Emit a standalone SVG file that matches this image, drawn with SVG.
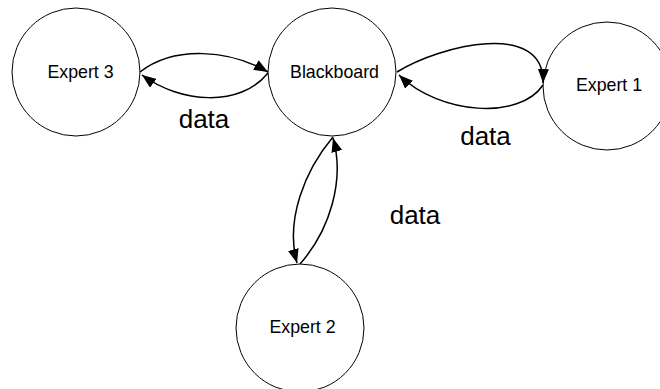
<svg xmlns="http://www.w3.org/2000/svg" width="660" height="389" viewBox="0 0 660 389">
<style>
.node circle{fill:#fff;stroke:#000;stroke-width:1}
.lbl{font-family:"Liberation Sans",Arial,sans-serif;font-size:17.8px;fill:#000;text-anchor:middle}
.data{font-family:"Liberation Sans",Arial,sans-serif;font-size:26px;fill:#000;text-anchor:middle}
.edge{fill:none;stroke:#000;stroke-width:1.5;marker-end:url(#arr)}
</style>
<defs>
<marker id="arr" viewBox="0 0 14 11" refX="14" refY="5.5" markerWidth="14" markerHeight="11" markerUnits="userSpaceOnUse" orient="auto">
<path d="M0,0 L14,5.5 L0,11 z" fill="#000"/>
</marker>
</defs>
<rect width="660" height="389" fill="#fff"/>
<g id="expert3" class="node"><circle cx="76" cy="72" r="64"/><text class="lbl" x="80.5" y="78">Expert 3</text></g>
<g id="blackboard" class="node"><circle cx="332" cy="72" r="64"/><text class="lbl" x="334.5" y="78">Blackboard</text></g>
<g id="expert1" class="node"><circle cx="607" cy="86" r="64"/><text class="lbl" x="609" y="91">Expert 1</text></g>
<g id="expert2" class="node"><circle cx="300" cy="328" r="64"/><text class="lbl" x="302.5" y="333">Expert 2</text></g>
<g id="connectors">
<path class="edge" d="M140,72 C175,45 230,50 268,72"/>
<path class="edge" d="M268,73 C240,108 180,103 142,75"/>
<path class="edge" d="M397,72 C440,45 545,20 543,83"/>
<path class="edge" d="M543,85 C520,120 440,115 399,75"/>
<path class="edge" d="M300,264 C330,230 345,180 333,138"/>
<path class="edge" d="M333,137 C305,170 285,220 297,263"/>
</g>
<text class="data" x="204" y="127.5">data</text>
<text class="data" x="485.5" y="145">data</text>
<text class="data" x="415" y="224">data</text>
</svg>
